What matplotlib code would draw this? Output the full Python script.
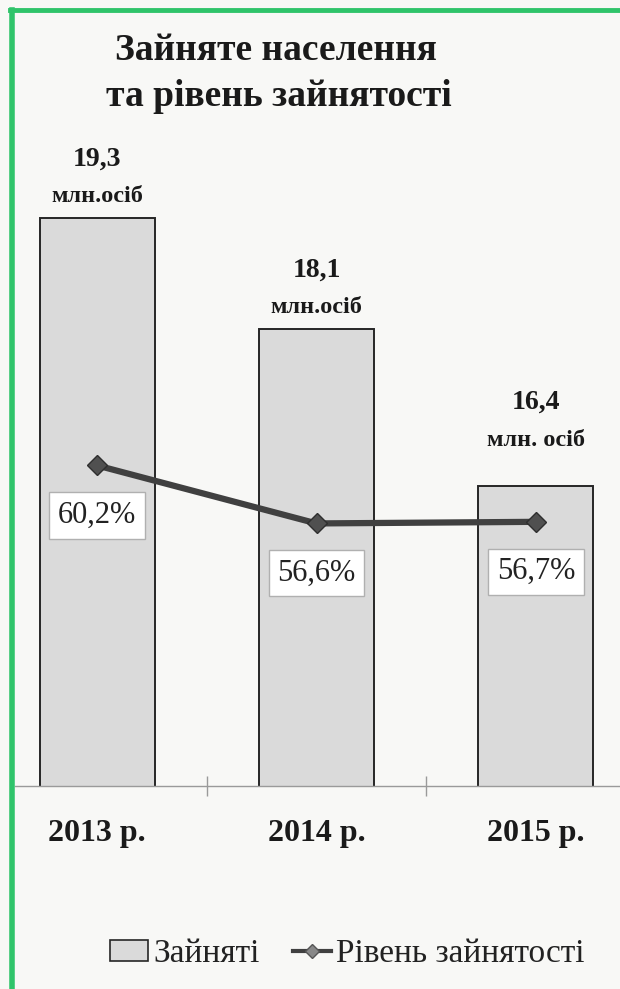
import numpy as np
import matplotlib.pyplot as plt
from matplotlib.patches import Patch
from matplotlib.lines import Line2D

plt.rcParams["font.family"] = ["Liberation Serif", "DejaVu Serif"]

# data
years = ["2013 р.", "2014 р.", "2015 р."]
employed = [19.3, 18.1, 16.4]  # млн осіб
employed_units = ["млн.осіб", "млн.осіб", "млн. осіб"]
rate = [60.2, 56.6, 56.7]  # %

bar_color = "#dadada"
edge_color = "#262626"
line_color = "#404040"

fig = plt.figure(figsize=(6.2, 9.89), dpi=100)
fig.patch.set_facecolor("#f8f8f6")

W, H = 620, 989
ax1 = fig.add_axes([15 / W, 1 - 786 / H, 1 - 15 / W, (786 - 190) / H])
ax1.set_facecolor("none")
ax2 = ax1.twinx()

x = np.arange(len(years))
ax1.bar(x, employed, width=0.524, color=bar_color, edgecolor=edge_color,
        linewidth=1.4, zorder=2)
ax1.set_ylim(13.16, 19.60)
ax1.set_xlim(-0.374, 2.383)

ax2.plot(x, rate, color=line_color, linewidth=4.5, marker="D", markersize=10,
         markerfacecolor="#505050", markeredgecolor="#2e2e2e", zorder=3)
ax2.set_ylim(40.3, 77.3)

# value labels above the bars
extra_lift = [0, 0, 25]  # px, the 2015 label sits higher
for i, v in enumerate(employed):
    ax1.annotate(f"{v:.1f}".replace(".", ","), (x[i], v), xytext=(0, (59 + extra_lift[i]) * 0.72),
                 textcoords="offset points", ha="center", va="center",
                 fontsize=20, fontweight="bold", color="#1a1a1a")
    ax1.annotate(employed_units[i], (x[i], v), xytext=(0, (21 + extra_lift[i]) * 0.72),
                 textcoords="offset points", ha="center", va="center",
                 fontsize=17.5, fontweight="bold", color="#1a1a1a")

# percent labels under the line points
for i, v in enumerate(rate):
    ax2.annotate(f"{v:.1f}%".replace(".", ","), (x[i], v), xytext=(0, -36),
                 textcoords="offset points", ha="center", va="center",
                 fontsize=22, color="#222222", zorder=4,
                 bbox=dict(boxstyle="square,pad=0.28", facecolor="white",
                           edgecolor="#b0b0b0", linewidth=1))

for ax in (ax1, ax2):
    for s in ax.spines.values():
        s.set_visible(False)
    ax.set_yticks([])
ax1.spines["bottom"].set_visible(True)
ax1.spines["bottom"].set_color("#9a9a9a")
ax1.spines["bottom"].set_linewidth(1)

ax1.set_xticks(x, years, fontsize=23, fontweight="bold", color="#1a1a1a")
ax1.tick_params(axis="x", which="major", length=0, pad=24)
ax1.set_xticks([0.5, 1.5], minor=True)
ax1.tick_params(axis="x", which="minor", length=14, direction="inout",
                color="#9a9a9a", width=1)

fig.text(276 / W, 1 - 50 / H, "Зайняте населення", ha="center", va="center",
         fontsize=27, fontweight="bold", color="#1a1a1a")
fig.text(279 / W, 1 - 97 / H, "та рівень зайнятості", ha="center", va="center",
         fontsize=27, fontweight="bold", color="#1a1a1a")

handles = [
    Patch(facecolor=bar_color, edgecolor=edge_color, linewidth=1.2),
    Line2D([], [], color=line_color, linewidth=3, marker="D", markersize=7,
           markerfacecolor="#888888", markeredgecolor="#555555"),
]
fig.legend(handles, ["Зайняті", "Рівень зайнятості"], loc="center",
           bbox_to_anchor=(347 / W, 1 - 954 / H), ncol=2, frameon=False,
           fontsize=24, handlelength=1.15, handleheight=0.55, handletextpad=0.15,
           columnspacing=1.0, labelcolor="#222222")

# green frame on the left and top
fig.add_artist(Line2D([12 / W, 12 / W], [0, 1 - 10 / H], color="#2fc46a", linewidth=4))
fig.add_artist(Line2D([10 / W, 1], [1 - 10 / H, 1 - 10 / H], color="#2fc46a", linewidth=3.5))

plt.savefig("out.png", dpi=100, facecolor=fig.get_facecolor())
